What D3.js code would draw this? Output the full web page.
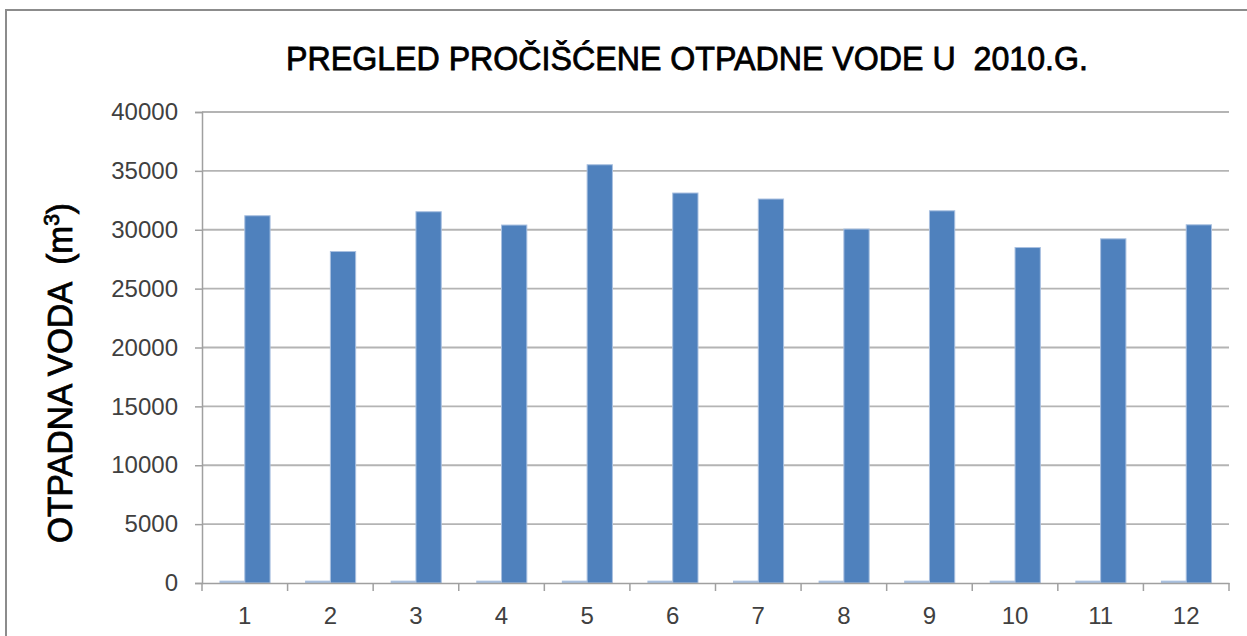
<!DOCTYPE html>
<html><head><meta charset="utf-8">
<script src="https://cdn.jsdelivr.net/npm/d3@7"></script>
<style>body{margin:0;background:#fff}svg{display:block}text{white-space:pre}</style>
</head><body>
<svg id="c" width="1247" height="636"></svg>
<script>
const categories = ["1","2","3","4","5","6","7","8","9","10","11","12"];
const mainValues = [31190, 28150, 31530, 30400, 35520, 33120, 32610, 30060, 31610, 28490, 29230, 30420];
const smallValues = [200, 200, 200, 200, 200, 200, 200, 200, 200, 200, 200, 200];
const yTicks = [0, 5000, 10000, 15000, 20000, 25000, 30000, 35000, 40000];
const titleText = "PREGLED PROČIŠĆENE OTPADNE VODE U  2010.G.";

const svg = d3.select("#c");
const L = 202, R = 1229, T = 112, B = 583;

svg.append("rect").attr("x",6).attr("y",10).attr("width",1260).attr("height",700)
  .attr("fill","#fff").attr("stroke","#8c8c8c").attr("stroke-width",2);

const x = d3.scaleBand().domain(categories).range([L,R]).paddingInner(0.409).paddingOuter(0.2045);
const sub = d3.scaleBand().domain(["small","main"]).range([0,x.bandwidth()]);
const y = d3.scaleLinear().domain([0,40000]).range([B,T]);

// grid
svg.append("g").selectAll("line").data(yTicks.filter(d=>d>0)).join("line")
  .attr("x1",L).attr("x2",R).attr("y1",d=>y(d)).attr("y2",d=>y(d))
  .attr("stroke","#b4b4b4").attr("stroke-width",1.8);

// y axis
const ya = svg.append("g").attr("transform",`translate(${L},0)`)
  .call(d3.axisLeft(y).tickValues(yTicks).tickSize(7).tickPadding(17).tickFormat(d3.format("d")));
ya.select(".domain").attr("stroke","#a0a0a0").attr("stroke-width",1.5);
ya.selectAll(".tick line").attr("stroke","#a0a0a0").attr("stroke-width",1.5);
ya.selectAll("text").attr("font-family","Liberation Sans, Arial, sans-serif").attr("font-size",24).attr("fill","#404040");

// bars
const g = svg.append("g");
categories.forEach((c,i)=>{
  g.append("rect").attr("x",x(c)+sub("small")).attr("width",sub.bandwidth())
    .attr("y",y(smallValues[i])).attr("height",B-y(smallValues[i]))
    .attr("fill","#a9c0df");
  g.append("rect").attr("x",x(c)+sub("main")).attr("width",sub.bandwidth())
    .attr("y",y(mainValues[i])).attr("height",B-y(mainValues[i]))
    .attr("fill","#4f81bd").attr("stroke","#a9c0e0").attr("stroke-width",1);
});

// x axis
const xa = svg.append("g").attr("transform",`translate(0,${B})`)
  .call(d3.axisBottom(x).tickSize(0).tickPadding(24));
xa.select(".domain").attr("stroke","#a0a0a0").attr("stroke-width",1.5);
xa.selectAll("text").attr("font-family","Liberation Sans, Arial, sans-serif").attr("font-size",24).attr("fill","#404040");
const bounds = categories.map(c=>x(c)-x.step()*x.paddingInner()/2).concat([R]);
svg.append("g").selectAll("line").data(bounds).join("line")
  .attr("x1",d=>d).attr("x2",d=>d).attr("y1",B).attr("y2",B+8)
  .attr("stroke","#a0a0a0").attr("stroke-width",1.5);

// title
svg.append("text").attr("x",687).attr("y",70).attr("text-anchor","middle")
  .attr("font-family","Liberation Sans, Arial, sans-serif").attr("font-size",33)
  .attr("textLength",802).attr("lengthAdjust","spacingAndGlyphs")
  .attr("fill","#000").attr("stroke","#000").attr("stroke-width",0.8).text(titleText);

// y label
const yl = svg.append("text").attr("transform","translate(72,373) rotate(-90)")
  .attr("text-anchor","middle").attr("font-family","Liberation Sans, Arial, sans-serif")
  .attr("font-size",35).attr("fill","#000").attr("stroke","#000").attr("stroke-width",0.8)
  .attr("textLength",340).attr("lengthAdjust","spacingAndGlyphs");
yl.append("tspan").text("OTPADNA VODA  (m");
yl.append("tspan").attr("font-size",22).attr("dy",-13).text("3");
yl.append("tspan").attr("dy",13).text(")");
</script>
</body></html>
